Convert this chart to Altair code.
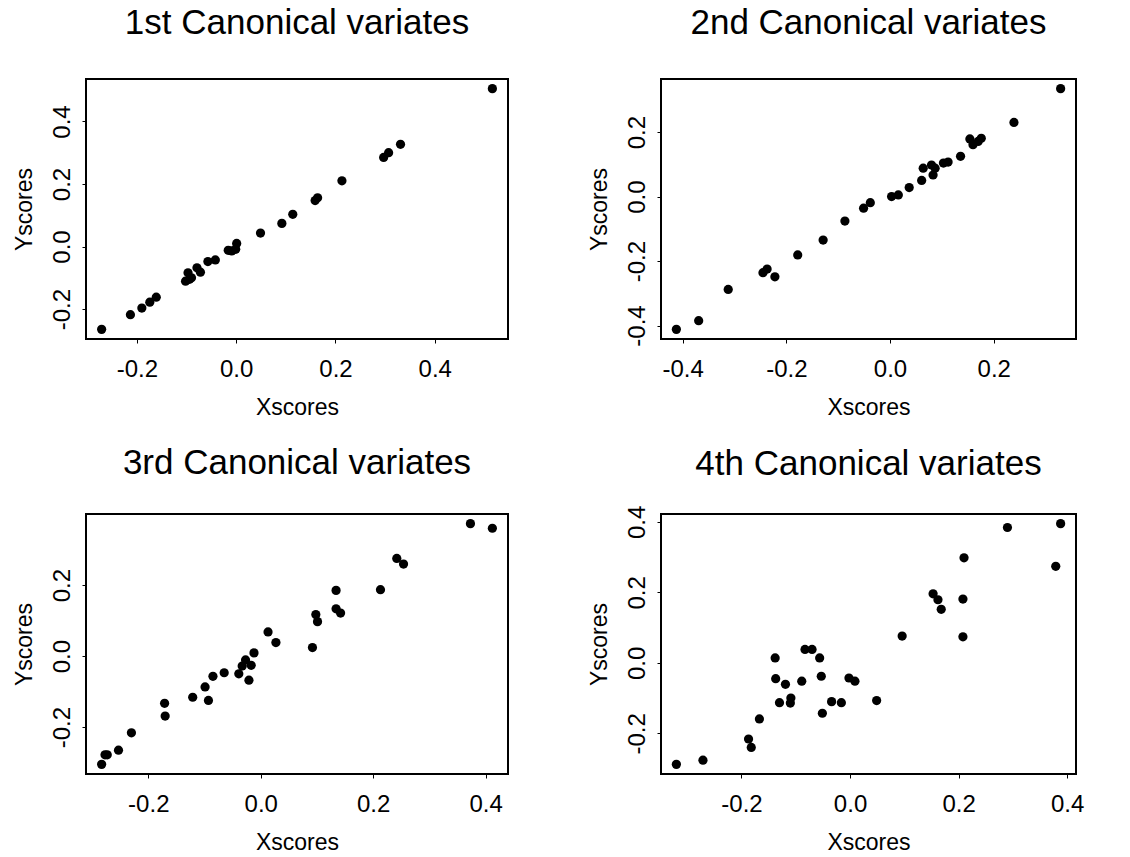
import altair as alt
import pandas as pd

# Panel 1: 1st canonical variates
x1 = [0.516, 0.331, 0.307, 0.297, 0.213, 0.164, 0.159, 0.114, 0.092, 0.049, 0.001, -0.001, -0.016, -0.009,
      -0.042, -0.057, -0.072, -0.079, -0.090, -0.097, -0.102, -0.094, -0.161, -0.174, -0.190, -0.213, -0.271]
y1 = [0.505, 0.327, 0.300, 0.285, 0.210, 0.156, 0.147, 0.103, 0.074, 0.043, 0.010, -0.009, -0.012, -0.014,
      -0.043, -0.048, -0.082, -0.068, -0.100, -0.084, -0.111, -0.105, -0.162, -0.178, -0.197, -0.218, -0.265]

# Panel 2: 2nd canonical variates
x2 = [0.329, 0.239, 0.176, 0.154, 0.160, 0.170, 0.136, 0.112, 0.103, 0.080, 0.087, 0.064, 0.083, 0.061,
      0.037, 0.016, 0.003, -0.038, -0.051, -0.087, -0.129, -0.178, -0.237, -0.245, -0.222, -0.312, -0.369, -0.412]
y2 = [0.335, 0.230, 0.181, 0.179, 0.161, 0.171, 0.125, 0.107, 0.104, 0.098, 0.088, 0.088, 0.067, 0.050,
      0.028, 0.005, 0.000, -0.019, -0.036, -0.076, -0.135, -0.181, -0.225, -0.236, -0.249, -0.288, -0.385, -0.412]

# Panel 3: 3rd canonical variates
x3 = [0.373, 0.412, 0.242, 0.254, 0.213, 0.134, 0.134, 0.142, 0.098, 0.101, 0.013, 0.027, 0.092, -0.012,
      -0.027, -0.017, -0.033, -0.039, -0.021, -0.065, -0.085, -0.099, -0.093, -0.121, -0.171, -0.170,
      -0.230, -0.253, -0.273, -0.277, -0.283]
y3 = [0.373, 0.360, 0.275, 0.259, 0.187, 0.185, 0.133, 0.121, 0.117, 0.097, 0.068, 0.038, 0.024, 0.009,
      -0.011, -0.026, -0.028, -0.050, -0.068, -0.047, -0.057, -0.087, -0.125, -0.116, -0.133, -0.169,
      -0.216, -0.265, -0.278, -0.278, -0.305]

# Panel 4: 4th canonical variates
x4 = [0.388, 0.290, 0.379, 0.210, 0.153, 0.162, 0.168, 0.208, 0.208, 0.096, -0.083, -0.070, -0.056, -0.138,
      -0.053, -0.137, -0.119, -0.089, -0.002, 0.009, -0.109, -0.110, -0.130, -0.034, -0.016, 0.049,
      -0.051, -0.167, -0.187, -0.182, -0.271, -0.320]
y4 = [0.395, 0.384, 0.274, 0.298, 0.196, 0.179, 0.152, 0.181, 0.074, 0.076, 0.038, 0.038, 0.014, 0.014,
      -0.038, -0.045, -0.061, -0.052, -0.043, -0.052, -0.100, -0.114, -0.113, -0.110, -0.113, -0.107,
      -0.143, -0.159, -0.216, -0.240, -0.276, -0.288]

titles = ["1st Canonical variates", "2nd Canonical variates",
          "3rd Canonical variates", "4th Canonical variates"]
xticks = [[-0.2, 0.0, 0.2, 0.4], [-0.4, -0.2, 0.0, 0.2], [-0.2, 0.0, 0.2, 0.4], [-0.2, 0.0, 0.2, 0.4]]
yticks = [[-0.2, 0.0, 0.2, 0.4], [-0.4, -0.2, 0.0, 0.2], [-0.2, 0.0, 0.2], [-0.2, 0.0, 0.2, 0.4]]

FONT = "Liberation Sans"
LABEL_EXPR = "datum.value < 0 ? '-' + format(-datum.value, '.1f') : format(datum.value, '.1f')"


def r_domain(vals):
    lo, hi = min(vals), max(vals)
    pad = (hi - lo) * 0.04
    return [lo - pad, hi + pad]


def panel(xs, ys, title, xt, yt, w, toff):
    df = pd.DataFrame({"Xscores": xs, "Yscores": ys})
    return alt.Chart(df).mark_circle(size=85, color="black", opacity=1).encode(
        x=alt.X("Xscores:Q",
                scale=alt.Scale(domain=r_domain(xs), nice=False, zero=False),
                axis=alt.Axis(values=xt, labelExpr=LABEL_EXPR, grid=False, domain=False,
                              tickSize=4, tickColor="black", labelPadding=14, titlePadding=15,
                              labelFontSize=24, titleFontSize=23, labelFont=FONT, titleFont=FONT,
                              labelColor="black", titleColor="black", titleFontWeight="normal")),
        y=alt.Y("Yscores:Q",
                scale=alt.Scale(domain=r_domain(ys), nice=False, zero=False),
                axis=alt.Axis(values=yt, labelExpr=LABEL_EXPR, grid=False, domain=False,
                              tickSize=4, tickColor="black", labelAngle=-90, labelAlign="center",
                              labelBaseline="bottom", labelPadding=8, titlePadding=14,
                              labelFontSize=24, titleFontSize=23, labelFont=FONT, titleFont=FONT,
                              labelColor="black", titleColor="black", titleFontWeight="normal")),
    ).properties(
        width=w, height=260,
        title=alt.TitleParams(title, fontSize=35, font=FONT, fontWeight="normal",
                              color="black", anchor="middle", offset=toff, frame="group"),
    )


p1 = panel(x1, y1, titles[0], xticks[0], yticks[0], 422, 38)
p2 = panel(x2, y2, titles[1], xticks[1], yticks[1], 415, 38)
p3 = panel(x3, y3, titles[2], xticks[2], yticks[2], 422, 33)
p4 = panel(x4, y4, titles[3], xticks[3], yticks[3], 415, 23)

chart = alt.concat(
    p1, p2, p3, p4, columns=2,
    spacing={"row": 175, "column": 153}, bounds="flush",
).properties(
    padding={"left": 12, "top": 5, "right": 5, "bottom": 0},
    background="white",
).configure_view(
    stroke="black", strokeWidth=2
)

chart.save("out.html", embed_options={"renderer": "svg", "actions": False})
